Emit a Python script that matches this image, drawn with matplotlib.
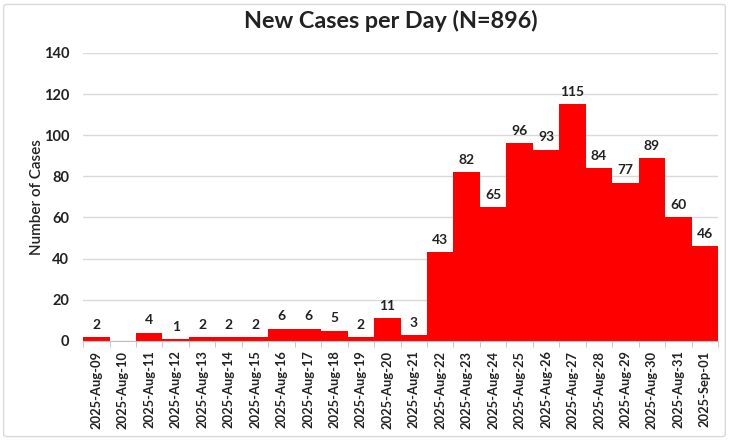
import matplotlib
matplotlib.use("Agg")
import matplotlib.pyplot as plt
from matplotlib.patches import FancyBboxPatch
import numpy as np

# Daily case counts
dates = ["2025-Aug-09", "2025-Aug-10", "2025-Aug-11", "2025-Aug-12", "2025-Aug-13",
         "2025-Aug-14", "2025-Aug-15", "2025-Aug-16", "2025-Aug-17", "2025-Aug-18",
         "2025-Aug-19", "2025-Aug-20", "2025-Aug-21", "2025-Aug-22", "2025-Aug-23",
         "2025-Aug-24", "2025-Aug-25", "2025-Aug-26", "2025-Aug-27", "2025-Aug-28",
         "2025-Aug-29", "2025-Aug-30", "2025-Aug-31", "2025-Sep-01"]
cases = [2, 0, 4, 1, 2, 2, 2, 6, 6, 5, 2, 11, 3, 43, 82, 65, 96, 93, 115, 84, 77, 89, 60, 46]

plt.rcParams['font.family'] = ['Lato', 'DejaVu Sans']

fig = plt.figure(figsize=(7.29, 4.41), dpi=100)
ax = fig.add_axes([0.114, 0.227, 0.871, 0.653])

x = np.arange(len(cases))
ax.bar(x, cases, width=1.0, color="#ff0000", zorder=2)

# data labels (Excel leaves the zero day unlabelled)
for xi, v in zip(x, cases):
    if v > 0:
        ax.text(xi, v + 3, str(v), ha="center", va="bottom",
                fontsize=10, fontweight="bold", color="#222222")

ax.set_xlim(-0.5, len(cases) - 0.5)
ax.set_ylim(0, 140)
ax.set_yticks(range(0, 141, 20))
ax.set_xticks(x)
ax.set_xticklabels(dates, rotation=90, fontsize=9.3, fontweight="bold", color="#222222")
ax.tick_params(axis="x", length=0, pad=7)
ax.set_xticks(np.arange(-0.5, len(cases), 1), minor=True)
ax.tick_params(axis="x", which="minor", length=4, color="#bfbfbf")
ax.tick_params(axis="y", length=0, labelsize=10.5, pad=10)
for lbl in ax.get_yticklabels():
    lbl.set_fontweight("bold")
    lbl.set_color("#222222")

ax.grid(axis="y", color="#d9d9d9", linewidth=1, zorder=0)
for s in ["top", "right", "left"]:
    ax.spines[s].set_visible(False)
ax.spines["bottom"].set_color("#bfbfbf")

ax.set_ylabel("Number of Cases", fontsize=11, fontweight="semibold", color="#222222", labelpad=0)

fig.text(391 / 729, 1 - 21 / 441, "New Cases per Day (N=896)", ha="center", va="center",
         fontsize=16.8, fontweight="bold", color="#222222")

# light chart border
fig.patches.append(FancyBboxPatch((0.005, 0.01), 0.99, 0.98, boxstyle="round,pad=0,rounding_size=0.005",
                                  transform=fig.transFigure, fill=False, edgecolor="#d9d9d9", linewidth=1))

fig.savefig("out.png", dpi=100)
